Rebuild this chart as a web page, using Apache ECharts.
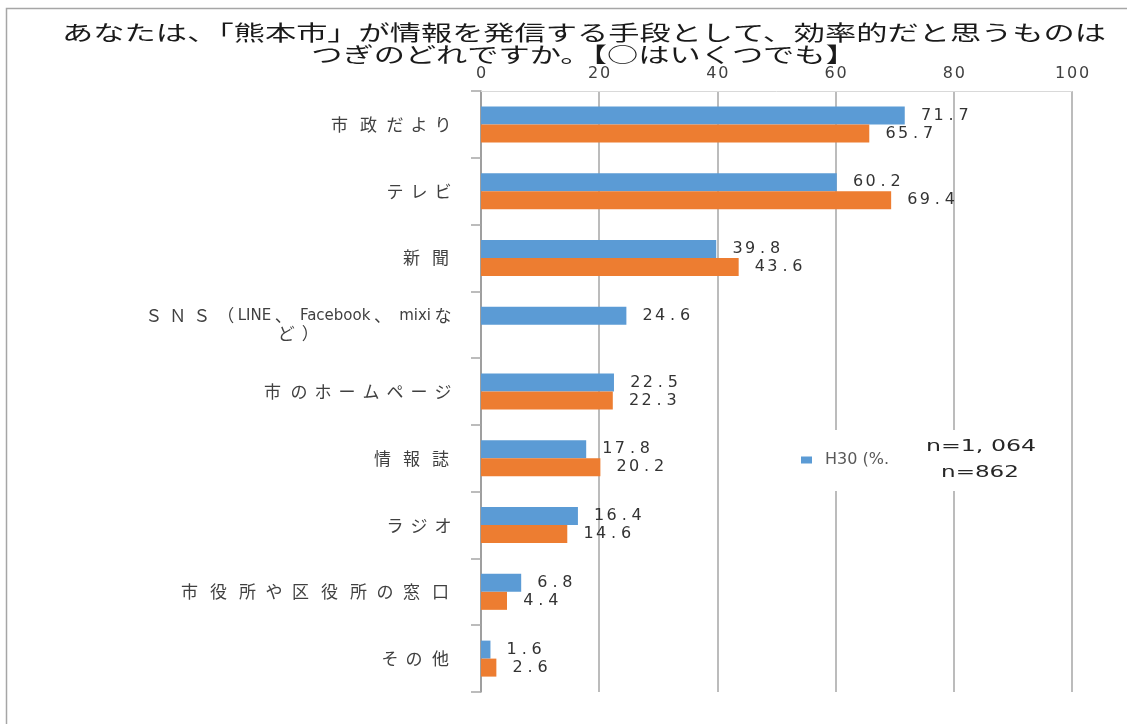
<!DOCTYPE html>
<html>
<head>
<meta charset="utf-8">
<title>熊本市 情報発信の手段</title>
<script src="https://cdn.jsdelivr.net/npm/echarts@6/dist/echarts.min.js"></script>
<style>
html, body { margin: 0; padding: 0; background: #fff; }
#chart { width: 1127px; height: 724px; }
</style>
</head>
<body>
<div id="chart"></div>
<script>
var titleText = 'あなたは、「熊本市」が情報を発信する手段として、効率的だと思うものは\nつぎのどれですか。【○はいくつでも】';
var categories = ['市政だより', 'テレビ', '新聞', 'ＳＮＳ（LINE、 Facebook、 mixiな\nど）', '市のホームページ', '情報誌', 'ラジオ', '市役所や区役所の窓口', 'その他'];
var h30 = [71.7, 60.2, 39.8, 24.6, 22.5, 17.8, 16.4, 6.8, 1.6];
var previous = [65.7, 69.4, 43.6, '-', 22.3, 20.2, 14.6, 4.4, 2.6];
var seriesNames = ['H30 (%)', 'H25 (%)'];
var legendText = 'H30 (%.';
var sampleSizes = ['n=1, 064', 'n=862'];
var axisMin = 0;
var axisMax = 100;
var axisStep = 20;

var main = {
	init: function() {
		main.chart()
	},
	// 一文字ずつ幅を固定して横長の見た目に合わせる
	spread: function(str, key) {
		return String(str).split('').map(function(c) {
			return '{' + key + '|' + c + '}'
		}).join('')
	},
	jp: function(str) {
		var out = '', run = '';
		function flush() {
			if (run) {
				out += '{a|' + run + '}';
				run = '';
			}
		}
		for (var i = 0; i < str.length; i++) {
			var c = str.charAt(i);
			var code = str.charCodeAt(i);
			if (c === '\n') {
				flush();
				out += '\n';
			} else if (code < 128) {
				run += c;
			} else {
				flush();
				out += (code >= 0x4e00 && code <= 0x9fff ? '{k|' : '{h|') + c + '}';
			}
		}
		flush();
		return out;
	},
	valueLabel: function() {
		return {
			show: true,
			position: 'right',
			distance: 15,
			formatter: function(p) {
				return main.spread(p.value, 'd')
			},
			rich: {
				d: { width: 12.5, align: 'center', fontFamily: '"DejaVu Sans", sans-serif', fontSize: 16, color: '#333' }
			}
		}
	},
	chart: function() {
		var myChart = echarts.init(document.getElementById('chart'));
		var cjk = '"Noto Sans CJK JP", sans-serif';
		var latin = '"DejaVu Sans", sans-serif';

		var option = {
			animation: false,
			backgroundColor: '#fff',
			grid: {
				left: 481,
				right: 55,
				top: 91,
				bottom: 32,
				containLabel: false,
				outerBoundsMode: 'none'
			},
			legend: {
				data: [seriesNames[0]],
				left: 796,
				top: 447,
				icon: 'rect',
				itemWidth: 11,
				itemHeight: 7,
				formatter: function() {
					return '{t|' + legendText + '}'
				},
				textStyle: {
					rich: {
						t: { padding: [0, 0, 0, 8], fontFamily: latin, fontSize: 16, color: '#595959' }
					}
				}
			},
			xAxis: {
				type: 'value',
				position: 'top',
				min: axisMin,
				max: axisMax,
				interval: axisStep,
				axisLine: {
					show: true,
					lineStyle: { color: '#D9D9D9', width: 1 }
				},
				axisTick: { show: false },
				axisLabel: {
					margin: 9,
					formatter: function(v) {
						return main.spread(v, 't')
					},
					rich: {
						t: { width: 12, align: 'center', fontFamily: latin, fontSize: 16, color: '#404040' }
					}
				},
				splitLine: {
					show: true,
					lineStyle: { color: '#A6A6A6', width: 1.5 }
				}
			},
			yAxis: {
				type: 'category',
				inverse: true,
				data: categories,
				axisLine: {
					show: true,
					lineStyle: { color: '#969696', width: 1.5 }
				},
				axisTick: {
					show: true,
					length: 10,
					lineStyle: { color: '#A6A6A6', width: 1.5 }
				},
				axisLabel: {
					margin: 26,
					interval: 0,
					formatter: function(v) {
						return main.jp(v)
					},
					rich: {
						a: { align: 'center', fontFamily: latin, fontSize: 15, lineHeight: 18, color: '#404040' },
						k: { width: 29, align: 'center', fontFamily: cjk, fontSize: 17, lineHeight: 18, color: '#404040' },
						h: { width: 24, align: 'center', fontFamily: cjk, fontSize: 17, lineHeight: 18, color: '#404040' }
					}
				}
			},
			series: [{
				name: seriesNames[0],
				type: 'bar',
				data: h30,
				barWidth: 18,
				barGap: '0%',
				itemStyle: { color: '#5B9BD5' },
				label: main.valueLabel()
			}, {
				name: seriesNames[1],
				type: 'bar',
				data: previous,
				barWidth: 18,
				barGap: '0%',
				itemStyle: { color: '#ED7D31' },
				label: main.valueLabel()
			}],
			graphic: [{
				type: 'rect',
				z: 0,
				silent: true,
				shape: { x: 6.5, y: 8.5, width: 1200, height: 800 },
				style: { fill: null, stroke: '#A6A6A6', lineWidth: 1.5 }
			}, {
				type: 'text',
				x: 584,
				y: 21,
				scaleX: 1.486,
				style: {
					text: titleText,
					font: '21px "Noto Sans CJK JP", sans-serif',
					fill: '#1a1a1a',
					textAlign: 'center',
					textVerticalAlign: 'top',
					lineHeight: 22
				}
			}, {
				type: 'rect',
				z: 1,
				silent: true,
				shape: { x: 795, y: 430, width: 250, height: 61 },
				style: { fill: '#fff' }
			}, {
				type: 'text',
				z: 5,
				x: 981,
				y: 447,
				scaleX: 1.48,
				style: {
					text: sampleSizes[0],
					font: '16px "DejaVu Sans", sans-serif',
					fill: '#262626',
					textAlign: 'center',
					textVerticalAlign: 'middle'
				}
			}, {
				type: 'text',
				z: 5,
				x: 980,
				y: 473,
				scaleX: 1.44,
				style: {
					text: sampleSizes[1],
					font: '16px "DejaVu Sans", sans-serif',
					fill: '#262626',
					textAlign: 'center',
					textVerticalAlign: 'middle'
				}
			}]
		};

		myChart.setOption(option);
	}
}

main.init()
</script>
</body>
</html>
